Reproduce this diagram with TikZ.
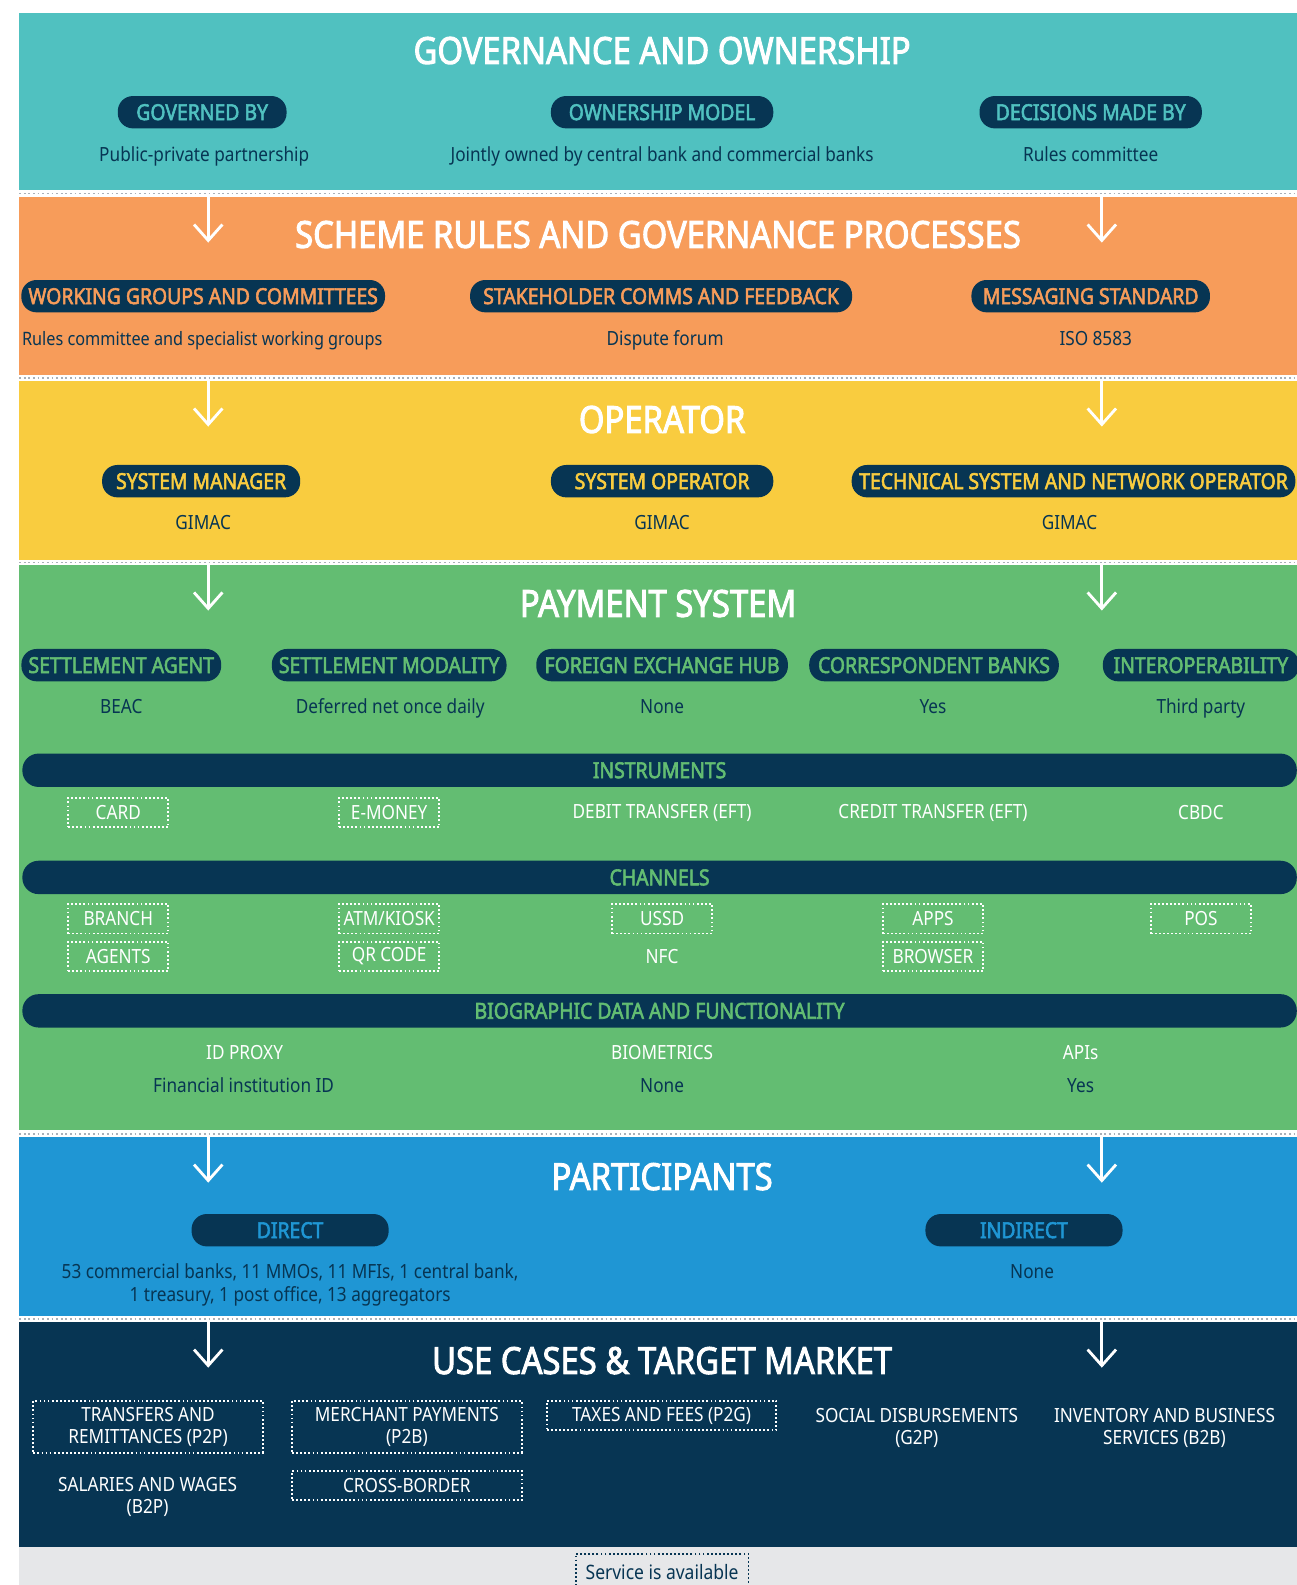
\documentclass[tikz,border=0pt]{standalone}
\usepackage{fontspec}
\setmainfont{Noto Sans}[FakeStretch=0.88, BoldFont={Noto Sans},
    BoldFeatures={FakeBold=2.5}]
\usepackage{tikz}
\usetikzlibrary{positioning,arrows.meta}

\definecolor{navy}{HTML}{073553}
\definecolor{govcol}{HTML}{50C1C0}
\definecolor{rulecol}{HTML}{F79C5A}
\definecolor{opcol}{HTML}{F9CC3F}
\definecolor{paycol}{HTML}{63BD72}
\definecolor{partcol}{HTML}{1F96D4}
\definecolor{legcol}{HTML}{E6E7E9}
\definecolor{sepcol}{HTML}{A9B0B8}

\begin{document}
\begin{tikzpicture}[
    x=0.02cm, y=-0.02cm,
    every node/.style={inner sep=2pt},
    >={Straight Barb[length=9pt,width=16pt]},
    sectitle/.style={text=white, font=\bfseries\fontsize{21}{25}\selectfont},
    pill/.style={fill=navy, text=#1, rounded corners=0.3cm,
        minimum height=0.64cm, inner xsep=4pt,
        font=\bfseries\fontsize{12.4}{15}\selectfont},
    valtext/.style={text=navy, align=center, text height=1.45ex,
        text depth=0.45ex, yshift=-1.6pt,
        font=\fontsize{11}{13}\selectfont},
    barhead/.style={fill=navy, text=paycol, rounded corners=0.32cm,
        minimum height=0.66cm, minimum width=25.22cm,
        font=\bfseries\fontsize{12.4}{14}\selectfont},
    itemtext/.style={text=white, align=center,
        font=\fontsize{11}{12.5}\selectfont},
    itembox/.style={itemtext, draw=white, line width=1.1pt,
        dash pattern=on 1pt off 1.3pt,
        minimum width=1.98cm, minimum height=0.58cm},
    downarrow/.style={draw=white, line width=1.6pt},
    sepline/.style={draw=sepcol, line width=1pt, dash pattern=on 1pt off 1.6pt}
]

\clip (0,0) rectangle (1283,1568);
\fill[white] (0,0) rectangle (1283,1568);

% Bands
\fill[govcol] (19,13) rectangle (1283,188);
\fill[rulecol] (19,195) rectangle (1283,371);
\fill[opcol] (19,377) rectangle (1283,554);
\fill[paycol] (19,559) rectangle (1283,1118);
\fill[partcol] (19,1125) rectangle (1283,1302);
\fill[navy] (19,1308) rectangle (1283,1530);
\fill[legcol] (19,1530) rectangle (1283,1568);

\draw[sepline] (19,191.5) -- (1283,191.5);
\draw[sepline] (19,374) -- (1283,374);
\draw[sepline] (19,556.5) -- (1283,556.5);
\draw[sepline] (19,1121.5) -- (1283,1121.5);
\draw[sepline] (19,1305) -- (1283,1305);

% Governance and ownership
\node[sectitle] (govtitle) at (655,50) {GOVERNANCE AND OWNERSHIP};
\node[pill=govcol, minimum width=3.34cm] (govby) at (200,111) {GOVERNED BY};
\node[pill=govcol, minimum width=4.4cm] (ownmodel) at (655,111) {OWNERSHIP MODEL};
\node[pill=govcol, minimum width=4.4cm] (decby) at (1079,111) {DECISIONS MADE BY};
\node[valtext] (govbyv) at (202,152) {Public-private partnership};
\node[valtext] (ownmodelv) at (655,152)
    {Jointly owned by central bank and commercial banks};
\node[valtext] (decbyv) at (1079,152) {Rules committee};

% Scheme rules
\coordinate (rl0) at (206,195);
\coordinate (rl1) at (206,240);
\coordinate (rr0) at (1090,195);
\coordinate (rr1) at (1090,240);
\draw[->, downarrow] (rl0) -- (rl1);
\draw[->, downarrow] (rr0) -- (rr1);
\node[sectitle] (rulestitle) at (651,232) {SCHEME RULES AND GOVERNANCE PROCESSES};
\node[pill=rulecol, minimum width=7.16cm] (wgroups) at (201,293)
    {WORKING GROUPS AND COMMITTEES};
\node[pill=rulecol, minimum width=7.56cm] (stakeh) at (654,293)
    {STAKEHOLDER COMMS AND FEEDBACK};
\node[pill=rulecol, minimum width=4.72cm] (msgstd) at (1079,293)
    {MESSAGING STANDARD};
\node[valtext, font=\fontsize{10.4}{13}\selectfont] (wgroupsv) at (200,334)
    {Rules committee and specialist working groups};
\node[valtext] (stakehv) at (658,334) {Dispute forum};
\node[valtext] (msgstdv) at (1084,334) {ISO 8583};

% Operator
\coordinate (ol0) at (206,377);
\coordinate (ol1) at (206,422);
\coordinate (or0) at (1090,377);
\coordinate (or1) at (1090,422);
\draw[->, downarrow] (ol0) -- (ol1);
\draw[->, downarrow] (or0) -- (or1);
\node[sectitle] (optitle) at (655,415) {OPERATOR};
\node[pill=opcol, minimum width=3.92cm] (sysman) at (199,476) {SYSTEM MANAGER};
\node[pill=opcol, minimum width=4.4cm] (sysop) at (655,476) {SYSTEM OPERATOR};
\node[pill=opcol, minimum width=8.78cm] (technet) at (1062,476)
    {TECHNICAL SYSTEM AND NETWORK OPERATOR};
\node[valtext] (sysmanv) at (201,516) {GIMAC};
\node[valtext] (sysopv) at (655,516) {GIMAC};
\node[valtext] (technetv) at (1058,516) {GIMAC};

% Payment system
\coordinate (pl0) at (206,559);
\coordinate (pl1) at (206,604);
\coordinate (pr0) at (1090,559);
\coordinate (pr1) at (1090,604);
\draw[->, downarrow] (pl0) -- (pl1);
\draw[->, downarrow] (pr0) -- (pr1);
\node[sectitle] (paytitle) at (651,597) {PAYMENT SYSTEM};
\node[pill=paycol, minimum width=3.92cm] (setag) at (120,658) {SETTLEMENT AGENT};
\node[pill=paycol, minimum width=4.5cm] (setmod) at (385,658) {SETTLEMENT MODALITY};
\node[pill=paycol, minimum width=4.98cm] (fxhub) at (655,658) {FOREIGN EXCHANGE HUB};
\node[pill=paycol, minimum width=4.94cm] (corrb) at (924,658) {CORRESPONDENT BANKS};
\node[pill=paycol, minimum width=3.88cm] (interop) at (1188,658) {INTEROPERABILITY};
\node[valtext] (setagv) at (120,698) {BEAC};
\node[valtext] (setmodv) at (386,698) {Deferred net once daily};
\node[valtext] (fxhubv) at (655,698) {None};
\node[valtext] (corrbv) at (923,698) {Yes};
\node[valtext] (interopv) at (1188,698) {Third party};

\node[barhead] (instrbar) at (652.5,762) {INSTRUMENTS};
\node[itembox] (card) at (117,804) {CARD};
\node[itembox] (emoney) at (385,804) {E-MONEY};
\node[itemtext] (debit) at (655,804) {DEBIT TRANSFER (EFT)};
\node[itemtext] (credit) at (923,804) {CREDIT TRANSFER (EFT)};
\node[itemtext] (cbdc) at (1188,804) {CBDC};

\node[barhead] (chanbar) at (652.5,868) {CHANNELS};
\node[itembox] (branch) at (117,909) {BRANCH};
\node[itembox] (atm) at (385,909) {ATM/KIOSK};
\node[itembox] (ussd) at (655,909) {USSD};
\node[itembox] (apps) at (923,909) {APPS};
\node[itembox] (pos) at (1188,909) {POS};
\node[itembox] (agents) at (117,946) {AGENTS};
\node[itembox] (qrcode) at (385,946) {QR CODE};
\node[itemtext] (nfc) at (655,946) {NFC};
\node[itembox] (browser) at (923,946) {BROWSER};

\node[barhead] (biobar) at (652.5,1000) {BIOGRAPHIC DATA AND FUNCTIONALITY};
\node[itemtext] (idproxy) at (242,1041) {ID PROXY};
\node[itemtext] (biom) at (655,1041) {BIOMETRICS};
\node[itemtext] (apis) at (1069,1041) {APIs};
\node[valtext] (idproxyv) at (241,1073) {Financial institution ID};
\node[valtext] (biomv) at (655,1073) {None};
\node[valtext] (apisv) at (1069,1073) {Yes};

% Participants
\coordinate (ql0) at (206,1125);
\coordinate (ql1) at (206,1170);
\coordinate (qr0) at (1090,1125);
\coordinate (qr1) at (1090,1170);
\draw[->, downarrow] (ql0) -- (ql1);
\draw[->, downarrow] (qr0) -- (qr1);
\node[sectitle] (parttitle) at (655,1164) {PARTICIPANTS};
\node[pill=partcol, minimum width=3.9cm] (direct) at (287,1217) {DIRECT};
\node[pill=partcol, minimum width=3.9cm] (indirect) at (1013,1217) {INDIRECT};
\node[valtext] (directv) at (287,1280)
    {53 commercial banks, 11 MMOs, 11 MFIs, 1 central bank,\\
     1 treasury, 1 post office, 13 aggregators};
\node[valtext] (indirectv) at (1021,1257) {None};

% Use cases
\coordinate (ul0) at (206,1308);
\coordinate (ul1) at (206,1353);
\coordinate (ur0) at (1090,1308);
\coordinate (ur1) at (1090,1353);
\draw[->, downarrow] (ul0) -- (ul1);
\draw[->, downarrow] (ur0) -- (ur1);
\node[sectitle] (usetitle) at (655,1346) {USE CASES \& TARGET MARKET};
\node[itembox, minimum width=4.54cm, minimum height=1.02cm] (p2p)
    at (146.5,1411.5) {TRANSFERS AND\\REMITTANCES (P2P)};
\node[itembox, minimum width=4.54cm, minimum height=1.02cm] (p2b)
    at (402.5,1411.5) {MERCHANT PAYMENTS\\(P2B)};
\node[itembox, minimum width=4.54cm] (p2g) at (654.5,1400.5)
    {TAXES AND FEES (P2G)};
\node[itemtext] (g2p) at (907,1413) {SOCIAL DISBURSEMENTS\\(G2P)};
\node[itemtext] (b2b) at (1152,1413) {INVENTORY AND BUSINESS\\SERVICES (B2B)};
\node[itemtext] (b2p) at (146,1481) {SALARIES AND WAGES\\(B2P)};
\node[itembox, minimum width=4.54cm] (xborder) at (402.5,1469.5)
    {CROSS-BORDER};

% Legend
\node[itembox, draw=navy, text=navy, minimum width=3.42cm, minimum height=0.72cm,
    font=\fontsize{11.2}{14}\selectfont] (legend) at (655,1555) {Service is available};

\end{tikzpicture}
\end{document}
